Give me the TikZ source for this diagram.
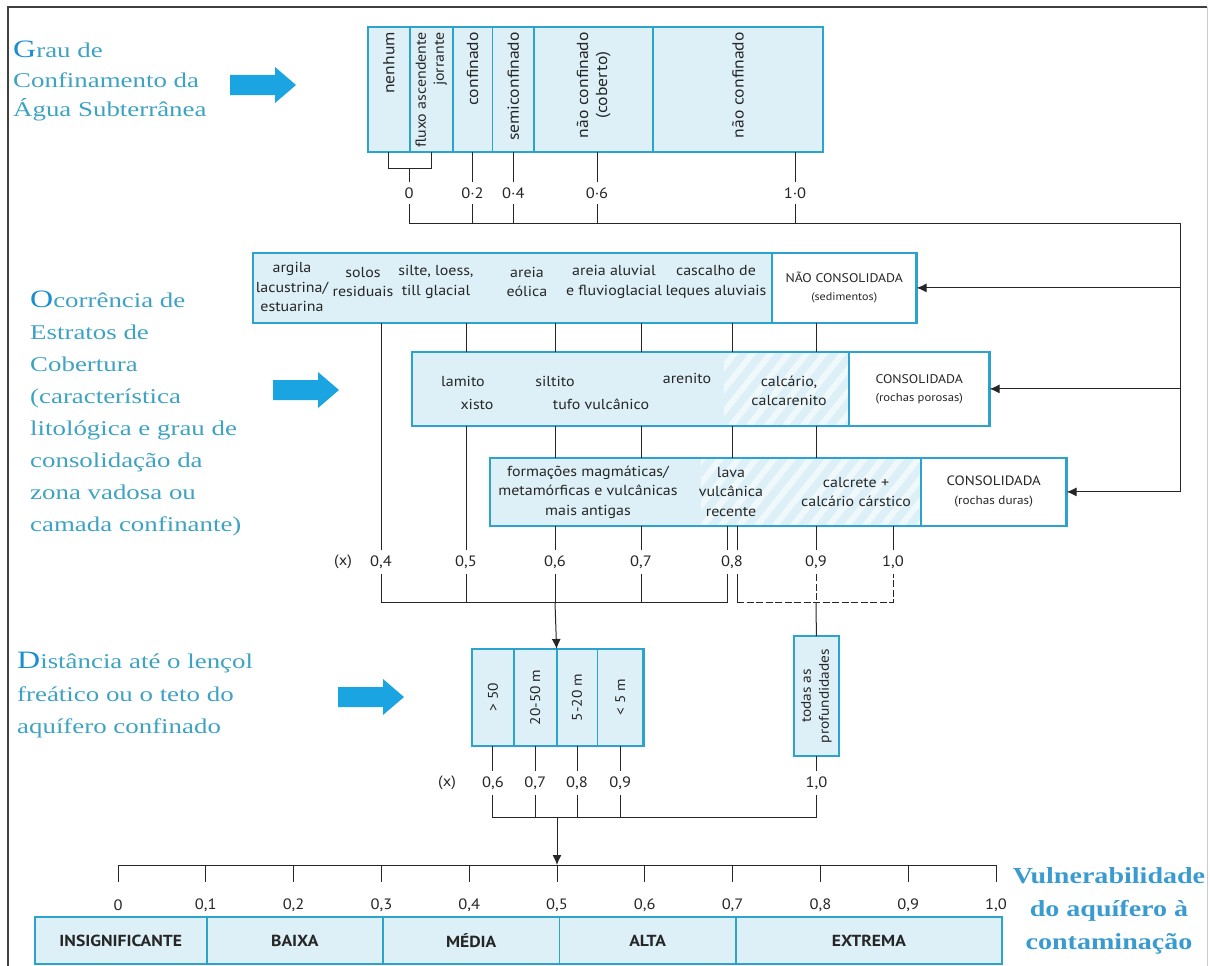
\documentclass[tikz,border=0pt]{standalone}
\usepackage{fontspec}
\usepackage{xcolor}
\usetikzlibrary{arrows.meta,positioning,calc}

\setmainfont{Liberation Serif}
\newfontfamily\boxfont[FakeStretch=1.1]{PT Sans}
\newfontfamily\titlefont[FakeStretch=1.28]{Liberation Serif}
\newfontfamily\vulnfont[FakeStretch=1.22]{Liberation Serif}

\definecolor{boxline}{HTML}{2BA3CC}
\definecolor{cellfill}{HTML}{DDF0F8}
\definecolor{titleteal}{HTML}{3EA2C2}
\definecolor{capblue}{HTML}{1A8ECF}
\definecolor{arrowblue}{HTML}{1BA4E2}
\definecolor{vulnblue}{HTML}{3A9BD0}
\definecolor{wire}{HTML}{262626}

\newcommand{\firstletter}[1]{{\color{capblue}\fontsize{25}{25}\selectfont #1}}

\tikzset{
  cell/.style={draw=boxline, line width=0.8pt, fill=cellfill, anchor=north west,
    inner sep=0pt, align=center, text=black!85},
  plaincell/.style={cell, fill=white},
  boxframe/.style={draw=boxline, line width=2.6pt},
  lbl/.style={font=\boxfont\fontsize{14.5}{19.5}\selectfont, align=center, inner sep=0pt, text=black!85},
  vlbl/.style={lbl, rotate=90, font=\boxfont\fontsize{14}{18}\selectfont},
  toplbl/.style={vlbl, anchor=east, font=\boxfont\fontsize{16}{19}\selectfont},
  val/.style={font=\boxfont\fontsize{15}{15}\selectfont, inner sep=0pt, outer sep=6pt, text=black!85},
  grade/.style={cell, minimum height=46, font=\boxfont\bfseries\fontsize{16}{16}\selectfont},
  title/.style={font=\titlefont\fontsize{21}{30}\selectfont, text=titleteal, align=left,
    anchor=north west, inner sep=0pt},
  wire/.style={draw=wire, line width=1pt},
  tip/.style={wire, -{Latex[length=10pt,width=9pt]}},
  stripe/.style={white, line width=6pt, opacity=0.55},
  hintarrow/.pic={\fill[arrowblue] (0,-10) -- (45,-10) -- (45,-18) -- (66,0) -- (45,18) -- (45,10) -- (0,10) -- cycle;},
}

\begin{document}
\begin{tikzpicture}[x=1pt, y=-1pt]
  \useasboundingbox (0,0) rectangle (1210,966);
  \draw[black!75, line width=2.5pt] (8,966) -- (8,7) -- (1207,7);
  \draw[black!20] (1207,7) -- (1207,966);

  % titles and hint arrows
  \node[title, font=\titlefont\fontsize{21}{29.5}\selectfont] (ttl1) at (13,41)
    {\firstletter{G}rau de\\Confinamento da\\Água Subterrânea};
  \node[title, font=\titlefont\fontsize{21}{32}\selectfont] (ttl2) at (30,291)
    {\firstletter{O}corrência de\\Estratos de\\Cobertura\\(característica\\litológica e grau de\\consolidação da\\zona vadosa ou\\camada confinante)};
  \node[title, font=\titlefont\fontsize{21}{32.5}\selectfont] (ttl3) at (17,652)
    {\firstletter{D}istância até o lençol\\freático ou o teto do\\aquífero confinado};
  \pic at (230,85) {hintarrow};
  \pic at (273,390) {hintarrow};
  \pic at (338,697) {hintarrow};

  % grau de confinamento
  \node[cell, minimum width=41, minimum height=124] (g1) at (368,27) {};
  \node[cell, minimum width=42, minimum height=124] (g2) at (g1.north east) {};
  \node[cell, minimum width=39, minimum height=124] (g3) at (g2.north east) {};
  \node[cell, minimum width=41, minimum height=124] (g4) at (g3.north east) {};
  \node[cell, minimum width=118, minimum height=124] (g5) at (g4.north east) {};
  \node[cell, minimum width=169, minimum height=124] (g6) at (g5.north east) {};
  \draw[boxframe] (g1.north west) rectangle (g6.south east);
  \node[toplbl] (n1) at ([yshift=-5pt]g1.north) {nenhum};
  \node[toplbl, align=right, font=\boxfont\fontsize{14.5}{18}\selectfont] (n2) at ([yshift=-5pt]g2.north) {fluxo ascendente\\jorrante};
  \node[toplbl] (n3) at ([yshift=-5pt]g3.north) {confinado};
  \node[toplbl] (n4) at ([yshift=-5pt]g4.north) {semiconfinado};
  \node[toplbl] (n5) at ([yshift=-5pt]g5.north) {não confinado\\(coberto)};
  \node[toplbl] (n6) at ([yshift=-5pt]g6.north) {não confinado};

  \node[val] (s0) at (409,193) {0};
  \node[val] (s2) at (g3.south |- 0,193) {0·2};
  \node[val] (s4) at (g4.south |- 0,193) {0·4};
  \node[val] (s6) at (597,193) {0·6};
  \node[val] (s10) at (795,193) {1·0};
  \draw[wire] (g1.south) -- ++(0,17) coordinate (br1) -| (g2.south);
  \draw[wire] (s0.north |- br1) -- (s0.north);
  \draw[wire] (g3.south) -- (s2.north);
  \draw[wire] (g4.south) -- (s4.north);
  \draw[wire] (s6.north |- g5.south) -- (s6.north);
  \draw[wire] (s10.north |- g6.south) -- (s10.north);
  \coordinate (hub) at (1180,223);
  \draw[wire] (s0.south) |- (hub);
  \foreach \s in {s2,s4,s6,s10}
    \draw[wire] (\s.south) -- (\s.south |- hub);

  % estratos de cobertura
  \node[cell, minimum width=518, minimum height=69] (uL) at (253,253) {};
  \node[plaincell, minimum width=144, minimum height=69, font=\boxfont\fontsize{12.5}{18}\selectfont] (uR) at (uL.north east)
    {NÃO CONSOLIDADA\\{\fontsize{11}{14}\selectfont(sedimentos)}};
  \draw[boxframe] (uL.north west) rectangle (uR.south east);
  \node[lbl] (u1) at (292,287) {argila\\lacustrina/\\estuarina};
  \node[lbl] (u2) at (363,282) {solos\\residuais};
  \node[lbl] (u3) at (436,282) {silte, loess,\\till glacial};
  \node[lbl] (u4) at (527,282) {areia\\eólica};
  \node[lbl] (u5) at (614,282) {areia aluvial\\e fluvioglacial};
  \node[lbl] (u6) at (716,282) {cascalho de\\leques aluviais};

  \node[cell, minimum width=436, minimum height=73] (pL) at (412,352) {};
  \node[plaincell, minimum width=140, minimum height=73, font=\boxfont\fontsize{12.5}{18}\selectfont] (pR) at (pL.north east)
    {CONSOLIDADA\\{\fontsize{11.5}{14}\selectfont(rochas porosas)}};
  \begin{scope}
    \clip ([xshift=-125pt]pL.north east) rectangle ([xshift=-1pt]pL.south east);
    \foreach \k in {0,...,11}
      \draw[stripe] ([xshift=\k*18pt-190pt]pL.south east) -- ++(60,-75);
  \end{scope}
  \draw[boxframe] (pL.north west) rectangle (pR.south east);
  \node[lbl] (p1) at (463,381) {lamito};
  \node[lbl] (p2) at (477,404) {xisto};
  \node[lbl] (p3) at (555,381) {siltito};
  \node[lbl] (p4) at (601,404) {tufo vulcânico};
  \node[lbl] (p5) at (687,378) {arenito};
  \node[lbl] (p6) at (789,391) {calcário,\\calcarenito};

  \node[cell, minimum width=430, minimum height=67] (hL) at (490,458) {};
  \node[plaincell, minimum width=145, minimum height=67, font=\boxfont\fontsize{13.5}{19}\selectfont] (hR) at (hL.north east)
    {CONSOLIDADA\\{\fontsize{12}{14}\selectfont(rochas duras)}};
  \begin{scope}
    \clip ([xshift=-220pt]hL.north east) rectangle ([xshift=-1pt]hL.south east);
    \foreach \k in {0,...,16}
      \draw[stripe] ([xshift=\k*18pt-290pt]hL.south east) -- ++(60,-75);
  \end{scope}
  \draw[boxframe] (hL.north west) rectangle (hR.south east);
  \node[lbl] (h1) at (588,492) {formações magmáticas/\\metamórficas e vulcânicas\\mais antigas};
  \node[lbl] (h2) at (731,492) {lava\\vulcânica\\recente};
  \node[lbl] (h3) at (856,492) {calcrete +\\calcário cárstico};

  \draw[tip] (hub) |- (uR.east);
  \draw[tip] (hub) |- (pR.east);
  \draw[tip] (hub) |- (hR.east);

  \node[val] (vx) at (343,562) {(x)};
  \node[val] (v4) at (381,562) {0,4};
  \node[val] (v5) at (466,562) {0,5};
  \node[val] (v6) at (555,562) {0,6};
  \node[val] (v7) at (641,562) {0,7};
  \node[val] (v8) at (732,562) {0,8};
  \node[val] (v9) at (816,562) {0,9};
  \node[val] (v10) at (893,562) {1,0};
  \coordinate (v8a) at ([xshift=-5pt]v8.north);
  \coordinate (v8b) at ([xshift=5pt]v8.north);
  \draw[wire] (uL.south -| v4) -- (v4.north);
  \foreach \v in {v5,v6,v7,v8,v9}
    \draw[wire] (uL.south -| \v) -- (pL.north -| \v);
  \draw[wire] (pL.south -| v5) -- (v5.north);
  \foreach \v in {v6,v7,v8,v9}
    \draw[wire] (pL.south -| \v) -- (hL.north -| \v);
  \foreach \v in {v6,v7,v9,v10}
    \draw[wire] (hL.south -| \v) -- (\v.north);
  \draw[wire] (hL.south -| v8a) -- (v8a);
  \draw[wire] (hL.south -| v8b) -- (v8b);

  % distancia
  \node[cell, minimum width=41, minimum height=96] (d1) at (472,649) {};
  \node[cell, minimum width=42, minimum height=96] (d2) at (d1.north east) {};
  \node[cell, minimum width=40, minimum height=96] (d3) at (d2.north east) {};
  \node[cell, minimum width=45, minimum height=96] (d4) at (d3.north east) {};
  \draw[boxframe] (d1.north west) rectangle (d4.south east);
  \node[vlbl] (e1) at (d1) {> 50};
  \node[vlbl] (e2) at (d2) {20-50 m};
  \node[vlbl] (e3) at (d3) {5-20 m};
  \node[vlbl] (e4) at (d4) {< 5 m};
  \node[cell, minimum width=44, minimum height=119] (td) at (794,636) {};
  \draw[boxframe] (td.north west) rectangle (td.south east);
  \node[vlbl] (e5) at (td) {todas as\\profundidades};

  \draw[wire] (v4.south) -- ++(0,28) coordinate (m4) -| (v8a |- v8.south);
  \foreach \v in {v5,v6,v7}
    \draw[wire] (\v.south) -- (\v.south |- m4);
  \draw[wire] (v8b |- v8.south) -- (v8b |- m4);
  \draw[wire, dash pattern=on 7pt off 2.5pt] (v8b |- m4) -| (v10.south);
  \draw[wire, dash pattern=on 7pt off 2.5pt] (v9.south) -- (v9.south |- m4);
  \draw[tip] (v6.south |- m4) -- (d2.north east);
  \draw[wire] (v9.south |- m4) -- (td.north);

  \node[val] (wx) at (447,783) {(x)};
  \node[val] (w6) at (d1.south |- 0,783) {0,6};
  \node[val] (w7) at (d2.south |- 0,783) {0,7};
  \node[val] (w8) at (d3.south |- 0,783) {0,8};
  \node[val] (w9) at (d4.south |- 0,783) {0,9};
  \node[val] (w10) at (td.south |- 0,783) {1,0};
  \foreach \d/\w in {d1/w6,d2/w7,d3/w8,d4/w9,td/w10}
    \draw[wire] (\d.south) -- (\w.north);
  \draw[wire] (w6.south) -- ++(0,22) coordinate (n6) -| (w10.south);
  \foreach \w in {w7,w8,w9}
    \draw[wire] (\w.south) -- (\w.south |- n6);

  % vulnerabilidade
  \coordinate (sc0) at (118,865);
  \coordinate (sc10) at (996,865);
  \draw[wire] (sc0) -- (sc10);
  \foreach \i/\lab in {0/0,1/{0,1},2/{0,2},3/{0,3},4/{0,4},5/{0,5},6/{0,6},7/{0,7},8/{0,8},9/{0,9},10/{1,0}} {
    \coordinate (t\i) at ($(sc0)!\i/10!(sc10)$);
    \draw[wire] (t\i) -- ++(0,17);
    \node[val] (k\i) at ([yshift=-40pt]t\i) {\lab};
  }
  \draw[tip] (t5 |- n6) -- (t5);

  \node[grade, minimum width=170.8] (z1) at (35,917) {INSIGNIFICANTE};
  \node[grade, minimum width=175.6] (z2) at (z1.north east) {BAIXA};
  \node[grade, minimum width=175.6] (z3) at (z2.north east) {MÉDIA};
  \node[grade, minimum width=175.6] (z4) at (z3.north east) {ALTA};
  \node[grade, minimum width=265.4] (z5) at (z4.north east) {EXTREMA};
  \draw[boxframe] (z1.north west) rectangle (z5.south east);

  \node[font=\vulnfont\bfseries\fontsize{23}{33}\selectfont, text=vulnblue, align=center] (vul) at (1109,911)
    {Vulnerabilidade\\do aquífero à\\contaminação};
\end{tikzpicture}
\end{document}
